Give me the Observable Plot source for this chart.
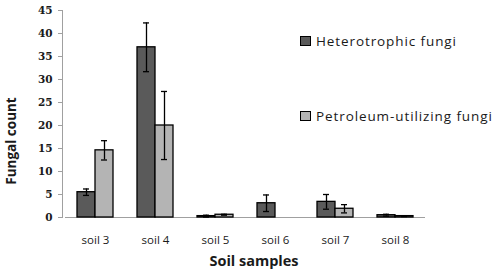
<!DOCTYPE html>
<html><head><meta charset="utf-8">
<script src="https://cdn.jsdelivr.net/npm/d3@7"></script>
<script src="https://cdn.jsdelivr.net/npm/@observablehq/plot@0.6"></script>
<style>
body{margin:0;background:#fff;}
#wrap{position:relative;width:500px;height:271px;font-family:"Open Sans",sans-serif;color:#1a1a1a;}
.ttl{position:absolute;font-weight:bold;font-size:13.5px;white-space:nowrap;}
.leg{position:absolute;font-size:13.5px;letter-spacing:0.9px;white-space:nowrap;display:flex;align-items:center;}
.sw{display:inline-block;width:9px;height:8px;border:1px solid #000;margin-right:5px;}
</style></head>
<body><div id="wrap"></div>
<script>
const categories = ["soil 3","soil 4","soil 5","soil 6","soil 7","soil 8"];
const seriesNames = ["Heterotrophic fungi","Petroleum-utilizing fungi"];
const heterotrophic = [5.5, 37, 0.3, 3.1, 3.4, 0.5];
const heterotrophicErr = [0.7, 5.3, 0.2, 1.8, 1.6, 0.2];
const petroleum = [14.6, 20, 0.6, 0, 1.9, 0.3];
const petroleumErr = [2.1, 7.4, 0.1, 0, 0.9, 0.1];
const yTicks = [0,5,10,15,20,25,30,35,40,45];
const colors = ["#5a5a5a","#b4b4b4"];

const data = [];
categories.forEach((c,i)=>{
  data.push({soil:c, series:seriesNames[0], v:heterotrophic[i], e:heterotrophicErr[i]});
  data.push({soil:c, series:seriesNames[1], v:petroleum[i], e:petroleumErr[i]});
});
const errs = data.filter(d=>d.e>0);

const chart = Plot.plot({
  width:500, height:271,
  marginLeft:62, marginRight:72, marginTop:10, marginBottom:54,
  style:{fontFamily:"Open Sans, sans-serif", fontSize:"11px", color:"#1a1a1a", background:"#fff"},
  fx:{domain:categories, paddingInner:0, paddingOuter:0.05, label:null},
  x:{domain:seriesNames, paddingInner:0, paddingOuter:0.58, axis:null},
  y:{domain:[0,45], axis:null},
  color:{domain:seriesNames, range:colors},
  marks:[
    Plot.ruleY([0], {stroke:"#a0a0a0", strokeWidth:1}),
    Plot.barY(data, {fx:"soil", x:"series", y:"v", fill:"series", stroke:"#000", strokeWidth:1.3}),
    Plot.ruleX(errs, {fx:"soil", x:"series", y1:d=>d.v-d.e, y2:d=>d.v+d.e, stroke:"#000", strokeWidth:1.3}),
    Plot.tickY(errs, {fx:"soil", x:"series", y:d=>d.v+d.e, stroke:"#000", strokeWidth:1.3, insetLeft:6, insetRight:6}),
    Plot.tickY(errs, {fx:"soil", x:"series", y:d=>d.v-d.e, stroke:"#000", strokeWidth:1.3, insetLeft:6, insetRight:6}),
    Plot.axisY({ticks:yTicks, tickFormat:d=>d, tickSize:4, tickPadding:6, dx:-3, label:null, stroke:"#a0a0a0", fontFamily:"DejaVu Serif", fontSize:10.5, fontWeight:"bold", fill:"#1a1a1a"}),
    Plot.frame({anchor:"left", facetAnchor:"left", dx:-3, stroke:"#a0a0a0"}),
    Plot.axisFx({anchor:"bottom", tickSize:0, tickPadding:18, label:null, fontSize:11.5, fill:"#1a1a1a"})
  ]
});
const wrap = document.getElementById("wrap");
wrap.appendChild(chart);

function addDiv(cls, html, css){const d=document.createElement("div");d.className=cls;d.innerHTML=html;Object.assign(d.style,css);wrap.appendChild(d);return d;}
addDiv("ttl","Soil samples",{left:"254px",top:"260px",fontSize:"14.5px",transform:"translate(-50%,-50%)"});
addDiv("ttl","Fungal count",{left:"11px",top:"141px",transform:"translate(-50%,-50%) rotate(-90deg)"});
addDiv("leg",`<span class="sw" style="background:${colors[0]}"></span>${seriesNames[0]}`,{left:"300px",top:"32px"});
addDiv("leg",`<span class="sw" style="background:${colors[1]}"></span>${seriesNames[1]}`,{left:"300px",top:"107px"});
</script></body></html>
